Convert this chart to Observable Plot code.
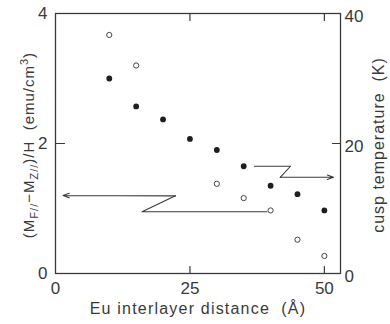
<!DOCTYPE html>
<html>
<head>
<meta charset="utf-8">
<script src="https://cdn.jsdelivr.net/npm/d3@7"></script>
<script src="https://cdn.jsdelivr.net/npm/@observablehq/plot@0.6"></script>
<style>
  html, body { margin: 0; padding: 0; background: #fff; }
  svg { display: block; }
</style>
</head>
<body>
<div id="chart"></div>
<script>
// ---- data ----
const distFilled = [10, 15, 20, 25, 30, 35, 40, 45, 50];          // Å
const cuspTemp   = [30.0, 25.7, 23.7, 20.7, 19.0, 16.5, 13.5, 12.2, 9.7]; // K (right axis)
const distOpen   = [10, 15, 30, 35, 40, 45, 50];                  // Å
const magDiff    = [3.67, 3.2, 1.38, 1.16, 0.97, 0.52, 0.27];     // emu/cm3 (left axis)

// axis ticks
const xTicks = [0, 25, 50];
const leftTicks = [0, 2, 4];
const rightTicks = [0, 20, 40];   // K

// arrow paths (data units: x in Å, left arrow in emu/cm3, right arrow in K)
const leftArrowX = [39.3, 16.1, 22.3, 1.4];
const leftArrowY = [0.95, 0.95, 1.195, 1.2];
const rightArrowX = [37.0, 43.7, 41.8, 51.7];
const rightArrowY = [16.5, 16.5, 14.8, 14.8];

const K = 10; // 40 K on the right matches 4 on the left

const filled = distFilled.map((x, i) => ({x, y: cuspTemp[i] / K}));
const open = distOpen.map((x, i) => ({x, y: magDiff[i]}));
const leftPath = leftArrowX.map((x, i) => ({x, y: leftArrowY[i]}));
const rightPath = rightArrowX.map((x, i) => ({x, y: rightArrowY[i] / K}));
const seg = p => [{x1: p[p.length - 2].x, y1: p[p.length - 2].y, x2: p[p.length - 1].x, y2: p[p.length - 1].y}];

const ink = "#3a3a3a";
const tickShape = {draw(context, l) { context.moveTo(0, 0); context.lineTo(0, -l); }};
const innerTicks = [25, 50];
const tickLen = 7;

const chart = Plot.plot({
  width: 390,
  height: 324,
  marginLeft: 55,
  marginRight: 50,
  marginTop: 13,
  marginBottom: 51,
  x: {domain: [0, 53]},
  y: {domain: [0, 4]},
  style: {fontFamily: "'Liberation Sans', Arial, sans-serif", fontSize: "17px", color: ink, background: "#fff"},
  marks: [
    Plot.frame({stroke: ink, strokeWidth: 1.3}),
    // inward tick marks on all four sides
    Plot.vector(innerTicks, {x: d => d, frameAnchor: "bottom", length: tickLen, rotate: 0, anchor: "start", shape: tickShape, stroke: ink, strokeWidth: 1.2}),
    Plot.vector(innerTicks, {x: d => d, frameAnchor: "top", length: tickLen, rotate: 180, anchor: "start", shape: tickShape, stroke: ink, strokeWidth: 1.2}),
    Plot.vector([2], {y: d => d, frameAnchor: "left", length: 9, rotate: 90, anchor: "start", shape: tickShape, stroke: ink, strokeWidth: 1.2}),
    Plot.vector([20 / K], {y: d => d, frameAnchor: "right", length: 8, rotate: -90, anchor: "start", shape: tickShape, stroke: ink, strokeWidth: 1.2}),
    // tick labels
    Plot.axisX({ticks: xTicks, tickSize: 0, tickPadding: 8, label: null, fontSize: 17, tickFormat: d => String(d)}),
    Plot.axisY({ticks: leftTicks, anchor: "left", tickSize: 0, tickPadding: 8, label: null, fontSize: 17, tickFormat: d => String(d)}),
    Plot.axisY({ticks: rightTicks.map(d => d / K), anchor: "right", tickSize: 0, tickPadding: 4, dy: 3, label: null, fontSize: 17, tickFormat: d => String(Math.round(d * K))}),
    // arrows
    Plot.line(leftPath.slice(0, -1), {x: "x", y: "y", stroke: ink, strokeWidth: 1.1}),
    Plot.arrow(seg(leftPath), {x1: "x1", y1: "y1", x2: "x2", y2: "y2", stroke: ink, strokeWidth: 1.1, headLength: 9, headAngle: 40}),
    Plot.line(rightPath.slice(0, -1), {x: "x", y: "y", stroke: ink, strokeWidth: 1.1}),
    Plot.arrow(seg(rightPath), {x1: "x1", y1: "y1", x2: "x2", y2: "y2", stroke: ink, strokeWidth: 1.1, headLength: 9, headAngle: 40}),
    // data points
    Plot.dot(filled, {x: "x", y: "y", r: 2.9, fill: "#1e1e1e", stroke: "none"}),
    Plot.dot(open, {x: "x", y: "y", r: 2.6, fill: "#fff", stroke: "#444", strokeWidth: 1})
  ]
});

// axis titles
const svg = d3.select(chart);
const font = "'Liberation Sans', Arial, sans-serif";

const lt = svg.append("text")
  .attr("transform", "translate(34,145) rotate(-90)")
  .attr("text-anchor", "middle")
  .attr("font-family", font)
  .attr("font-size", 15)
  .attr("letter-spacing", 1.0)
  .attr("fill", ink)
  .style("white-space", "pre");
lt.append("tspan").text("(M");
lt.append("tspan").attr("font-size", 11).attr("dy", 4).text("F//");
lt.append("tspan").attr("dy", -4).text("\u2212M");
lt.append("tspan").attr("font-size", 11).attr("dy", 4).text("Z//");
lt.append("tspan").attr("dy", -4).text(")/H\u00a0\u00a0(emu/cm");
lt.append("tspan").attr("font-size", 11).attr("dy", -6).text("3");
lt.append("tspan").attr("dy", 6).text(")");

svg.append("text")
  .attr("transform", "translate(384,145) rotate(-90)")
  .attr("text-anchor", "middle")
  .attr("font-family", font)
  .attr("font-size", 16)
  .attr("letter-spacing", 1.0)
  .attr("fill", ink)
  .text("cusp temperature\u00a0\u00a0(K)");

svg.append("text")
  .attr("x", 198)
  .attr("y", 314)
  .attr("text-anchor", "middle")
  .attr("font-family", font)
  .attr("font-size", 16)
  .attr("letter-spacing", 1.2)
  .attr("fill", ink)
  .text("Eu interlayer distance\u00a0\u00a0(\u00c5)");

document.getElementById("chart").appendChild(chart);
</script>
</body>
</html>
